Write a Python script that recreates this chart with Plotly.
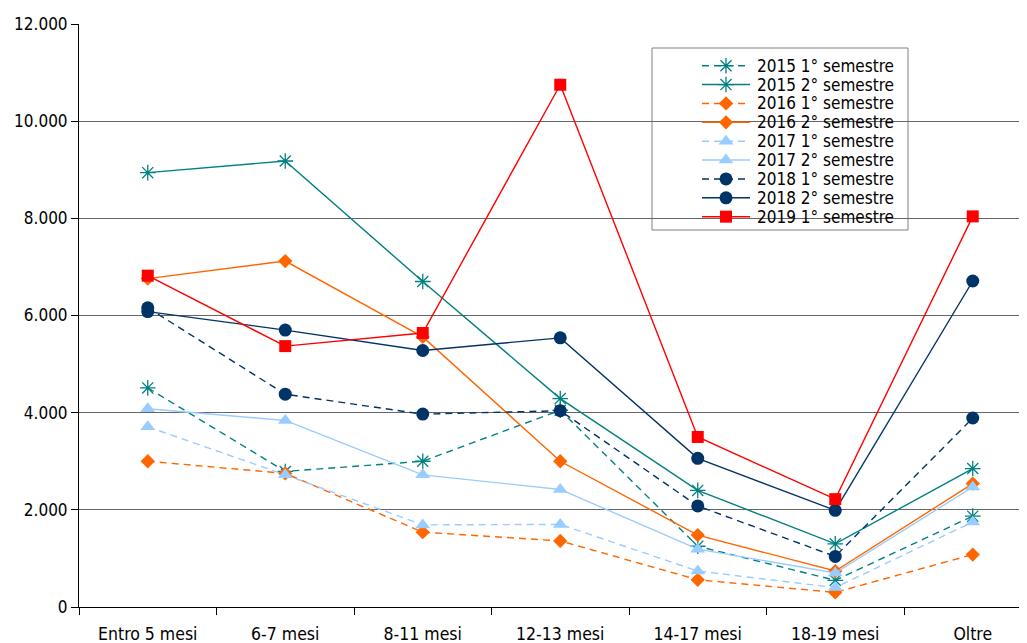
import plotly.graph_objects as go

categories = ["Entro 5 mesi", "6-7 mesi", "8-11 mesi", "12-13 mesi", "14-17 mesi", "18-19 mesi", "Oltre"]

s2015_1 = [4510, 2790, 3000, 4050, 1250, 550, 1870]
s2015_2 = [8940, 9180, 6700, 4290, 2400, 1300, 2850]
s2016_1 = [3000, 2750, 1540, 1360, 560, 300, 1080]
s2016_2 = [6760, 7120, 5560, 3000, 1480, 740, 2540]
s2017_1 = [3710, 2720, 1690, 1700, 740, 400, 1750]
s2017_2 = [4080, 3840, 2720, 2420, 1190, 700, 2470]
s2018_1 = [6160, 4380, 3970, 4040, 2080, 1040, 3890]
s2018_2 = [6080, 5700, 5280, 5540, 3060, 1990, 6710]
s2019_1 = [6820, 5370, 5640, 10750, 3500, 2220, 8040]

series = [
    ("2015 1° semestre", s2015_1, "#008080", "dash", "asterisk-open", 13),
    ("2015 2° semestre", s2015_2, "#008080", "solid", "asterisk-open", 13),
    ("2016 1° semestre", s2016_1, "#FF6600", "dash", "diamond", 11),
    ("2016 2° semestre", s2016_2, "#FF6600", "solid", "diamond", 11),
    ("2017 1° semestre", s2017_1, "#99CCFF", "dash", "triangle-up", 13),
    ("2017 2° semestre", s2017_2, "#99CCFF", "solid", "triangle-up", 13),
    ("2018 1° semestre", s2018_1, "#003366", "dash", "circle", 13),
    ("2018 2° semestre", s2018_2, "#003366", "solid", "circle", 13),
    ("2019 1° semestre", s2019_1, "#FF0000", "solid", "square", 12),
]

FONT = "DejaVu Sans Condensed, DejaVu Sans"
DASH = "7px,5px"


def make_marker(sym, size, color):
    m = dict(symbol=sym, size=size, color=color)
    if sym == "asterisk-open":
        m["line"] = dict(color=color, width=1.3)
    else:
        m["line"] = dict(width=0)
    return m


fig = go.Figure()
for name, vals, color, dash, sym, size in series:
    fig.add_trace(go.Scatter(
        x=categories, y=vals, name=name, mode="lines+markers",
        line=dict(color=color, width=1.4, dash=DASH if dash == "dash" else "solid"),
        marker=make_marker(sym, size, color), showlegend=False,
    ))

# ---- geometry (page body has an 8px margin) ----
OFF = 8
SCR_L, SCR_R, SCR_T, SCR_B = 79, 1027, 24, 607   # plot area in screen px
W, H = 1027 - OFF, 643 - OFF
L, T = SCR_L - OFF, SCR_T - OFF
B = H - (SCR_B - OFF)
CAT_W = 137.5
YMAX = 12000

# ---- custom legend, drawn on an overlay axis pair in screen-pixel units ----
LEG_BOX = (652, 908, 48, 230)
ROW0, ROW_STEP = 65.7, 18.87
SAMPLE_X0, SAMPLE_X1, TEXT_X = 702, 750, 755


def sx_to_idx(px):
    return (px - SCR_L) / CAT_W - 0.5


def sy_to_val(py):
    return (SCR_B - py) * YMAX / (SCR_B - SCR_T)


fig.add_shape(type="rect", xref="x", yref="y", layer="below",
              x0=sx_to_idx(LEG_BOX[0]), x1=sx_to_idx(LEG_BOX[1]),
              y0=sy_to_val(LEG_BOX[3]), y1=sy_to_val(LEG_BOX[2]),
              line=dict(color="#808080", width=1), fillcolor="white")

for i, (name, vals, color, dash, sym, size) in enumerate(series):
    ry = ROW0 + i * ROW_STEP
    fig.add_trace(go.Scatter(
        x=[SAMPLE_X0, SAMPLE_X1], y=[ry, ry], mode="lines", xaxis="x2", yaxis="y2",
        line=dict(color=color, width=1.5, dash=DASH if dash == "dash" else "solid"),
        showlegend=False, hoverinfo="skip",
    ))
    fig.add_trace(go.Scatter(
        x=[(SAMPLE_X0 + SAMPLE_X1) / 2], y=[ry], mode="markers", xaxis="x2", yaxis="y2",
        marker=make_marker(sym, size, color), showlegend=False, hoverinfo="skip",
    ))
    fig.add_annotation(x=TEXT_X, y=ry, xref="x2", yref="y2", text=name,
                       showarrow=False, xanchor="left", yanchor="middle",
                       font=dict(family=FONT, size=17, color="#000000"))

fig.update_layout(
    width=W, height=H,
    margin=dict(l=L, r=0, t=T, b=B),
    paper_bgcolor="white", plot_bgcolor="white",
    separators=",.",
    font=dict(family=FONT, size=17, color="#000000"),
    showlegend=False,
    xaxis=dict(
        type="category", range=[-0.5, (SCR_R - SCR_L) / CAT_W - 0.5],
        tickson="boundaries", ticks="outside", ticklen=7, tickcolor="black",
        showline=True, linecolor="black", linewidth=1,
        showgrid=False, tickfont=dict(family=FONT, size=17.5),
        ticklabelstandoff=11,
    ),
    yaxis=dict(
        range=[0, YMAX], dtick=2000, tickformat=",d",
        ticks="outside", ticklen=7, tickcolor="black",
        showline=True, linecolor="black", linewidth=1,
        showgrid=True, gridcolor="#666666", gridwidth=1,
        zeroline=False, tickfont=dict(family=FONT, size=17),
    ),
    xaxis2=dict(overlaying="x", range=[SCR_L, SCR_R], visible=False, fixedrange=True),
    yaxis2=dict(overlaying="y", range=[SCR_B, SCR_T], visible=False, fixedrange=True),
)

fig.write_html("out.html")
